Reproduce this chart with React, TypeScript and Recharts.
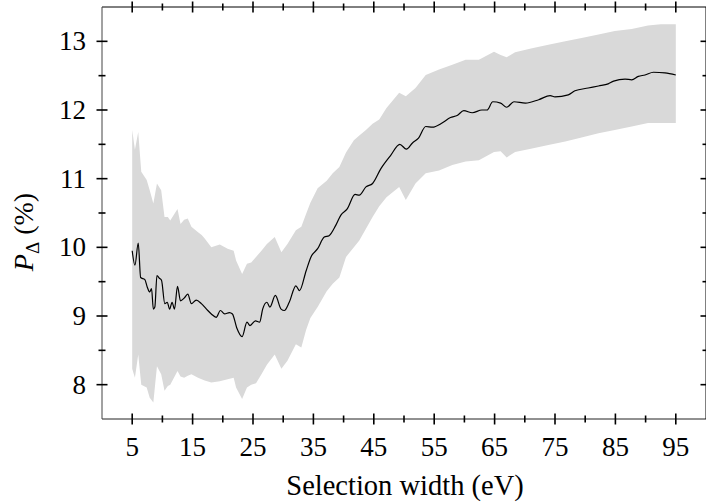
import { ComposedChart, Area, Line, XAxis, YAxis } from "recharts";

// mean curve
const meanX = [
  5, 5.45, 6, 6.4, 7.1, 7.5, 7.9, 8.2, 8.5, 8.75,
  9.1, 9.5, 9.85, 10.4, 10.8, 11.2, 11.6, 12, 12.5, 13,
  13.6, 14.2, 14.8, 15.6, 16.45, 17.3, 18.1, 18.9, 19.6, 20.3,
  21.1, 21.6, 22.3, 23.2, 24, 24.5, 25.4, 26.1, 26.6, 27.3,
  27.8, 28.7, 29.65, 30.2, 31, 32.1, 32.7, 33.8, 34.6, 35.7,
  36.8, 37.6, 38.7, 39.55, 40.6, 41.9, 42.6, 43.7, 44.8, 46.2,
  47.8, 49.3, 50.4, 51.4, 52.4, 53.6, 54.7, 56.3, 57.7, 58.8,
  59.9, 61.3, 62.9, 63.75, 64.7, 66, 67, 68.2, 70.1, 72.3,
  74.2, 75, 77.2, 78.3, 80.5, 82.2, 83.8, 84.7, 86.6, 87.7,
  88.8, 89.9, 91.3, 93.2, 95,
];
const meanY = [
  9.95, 9.74, 10.06, 9.56, 9.53, 9.42, 9.35, 9.4, 9.1, 9.13,
  9.59, 9.55, 9.52, 9.18, 9.2, 9.1, 9.2, 9.1, 9.43, 9.22,
  9.26, 9.32, 9.18, 9.23, 9.18, 9.1, 9.03, 8.98, 9.08, 9.03,
  9.05, 9.03, 8.83, 8.7, 8.91, 8.86, 8.93, 8.91, 9.1, 9.2,
  9.13, 9.3, 9.1, 9.08, 9.2, 9.44, 9.37, 9.66, 9.86, 9.98,
  10.15, 10.17, 10.32, 10.47, 10.56, 10.77, 10.76, 10.88, 10.93, 11.15,
  11.34, 11.5, 11.43, 11.52, 11.59, 11.76, 11.75, 11.81, 11.89, 11.92,
  11.99, 11.96, 12.0, 12.0, 12.12, 12.1, 12.04, 12.12, 12.1, 12.15,
  12.21, 12.19, 12.22, 12.28, 12.32, 12.35, 12.38, 12.42, 12.45, 12.44,
  12.49, 12.51, 12.55, 12.54, 12.51,
];

// grey uncertainty band
const bandX = [
  5, 5.45, 6, 6.5, 7.4, 7.9, 8.5, 9.1, 9.8, 10.35,
  10.9, 11.3, 12.5, 13, 13.6, 14.2, 14.8, 15.9, 16.5, 17,
  18.1, 19.5, 20.8, 21.8, 22.2, 23.2, 24, 24.7, 25.5, 26.4,
  27.3, 28.6, 29.7, 30.7, 32.1, 33, 33.8, 34.5, 35.7, 37.2,
  38.2, 39.3, 40.4, 41.7, 42.6, 43.7, 44.8, 45.9, 47.1, 49.2,
  50.3, 51.9, 53.6, 55.8, 58, 60.2, 62.4, 64.9, 66, 67,
  68.4, 71.2, 73.9, 76.7, 79.4, 82.2, 84.9, 87.7, 90.4, 92.5,
  95,
];
const bandLow = [
  8.23, 8.1, 8.44, 8.0, 7.96, 7.81, 7.74, 8.27, 8.15, 7.91,
  7.98, 8.0, 8.2, 8.12, 8.1, 8.13, 8.15, 8.1, 8.08, 8.06,
  8.03, 8.05, 8.08, 8.1, 7.96, 7.79, 7.96, 8.0, 8.02, 8.15,
  8.29, 8.44, 8.23, 8.35, 8.59, 8.54, 8.8, 8.97, 9.13, 9.36,
  9.47, 9.56, 9.86, 10.0, 10.1, 10.27, 10.44, 10.6, 10.73, 10.88,
  10.69, 10.93, 11.08, 11.12, 11.2, 11.25, 11.27, 11.39, 11.4, 11.31,
  11.39, 11.44, 11.49, 11.54, 11.6, 11.66, 11.71, 11.76, 11.81, 11.81,
  11.81,
];
const bandHigh = [
  11.71, 11.42, 11.68, 11.1, 10.98, 10.83, 10.64, 10.93, 10.83, 10.44,
  10.44, 10.39, 10.56, 10.34, 10.4, 10.42, 10.3, 10.22, 10.18, 10.13,
  10.0, 10.04, 9.98, 9.95, 9.81, 9.61, 9.76, 9.78, 9.86, 9.95,
  10.05, 10.15, 9.93, 10.05, 10.25, 10.3, 10.49, 10.65, 10.86, 10.97,
  11.08, 11.17, 11.38, 11.56, 11.63, 11.71, 11.8, 11.86, 12.03, 12.25,
  12.2, 12.32, 12.51, 12.59, 12.66, 12.73, 12.73, 12.85, 12.8, 12.77,
  12.84, 12.9, 12.95, 13.0, 13.05, 13.1, 13.15, 13.18, 13.23, 13.25,
  13.25,
];

const xMajor = [5, 15, 25, 35, 45, 55, 65, 75, 85, 95];
const xTicks = [5, 10, 15, 20, 25, 30, 35, 40, 45, 50, 55, 60, 65, 70, 75, 80, 85, 90, 95];
const yMajor = [8, 9, 10, 11, 12, 13];
const yTicks = [8, 8.5, 9, 9.5, 10, 10.5, 11, 11.5, 12, 12.5, 13];

const meanData = meanX.map((x, i) => ({ x, y: meanY[i] }));
const bandData = bandX.map((x, i) => ({ x, range: [bandLow[i], bandHigh[i]] }));

const FONT = "'Liberation Serif', serif";

function XTick(props: any) {
  const { x, y, payload, side } = props;
  const major = xMajor.includes(payload.value);
  const h = major ? 5.5 : 3.5;
  return (
    <g>
      <line x1={x} x2={x} y1={y - h} y2={y + h} stroke="#000" strokeWidth={1.6} />
      {side === "bottom" && major && (
        <text x={x} y={y + 37} textAnchor="middle" fontFamily={FONT} fontSize={27} fill="#000">
          {payload.value}
        </text>
      )}
    </g>
  );
}

function YTick(props: any) {
  const { x, y, payload, side } = props;
  const major = yMajor.includes(payload.value);
  const h = major ? 5.5 : 3.5;
  return (
    <g>
      <line x1={x - h} x2={x + h} y1={y} y2={y} stroke="#000" strokeWidth={1.6} />
      {side === "left" && major && (
        <text x={x - 16} y={y + 9} textAnchor="end" fontFamily={FONT} fontSize={27} fill="#000">
          {payload.value}
        </text>
      )}
    </g>
  );
}

export default function App() {
  return (
    <div style={{ position: "absolute", left: 0, top: 0, background: "#fff" }}>
      <ComposedChart width={706} height={504} margin={{ top: 6, right: -1, bottom: 0, left: 0 }}>
        <XAxis
          xAxisId="b"
          type="number"
          dataKey="x"
          domain={[0, 100]}
          ticks={xTicks}
          interval={0}
          tickSize={0}
          tickMargin={0}
          height={85}
          orientation="bottom"
          stroke="#222"
          tick={(p: any) => <XTick {...p} side="bottom" />}
          label={{
            content: () => (
              <text x={405} y={495} textAnchor="middle" fontFamily={FONT} fontSize={28.5} fill="#000">
                Selection width (eV)
              </text>
            ),
          }}
        />
        <XAxis
          xAxisId="t"
          type="number"
          dataKey="x"
          domain={[0, 100]}
          ticks={xTicks}
          interval={0}
          tickSize={0}
          tickMargin={0}
          height={1}
          orientation="top"
          stroke="#000"
          tick={(p: any) => <XTick {...p} side="top" />}
        />
        <YAxis
          yAxisId="l"
          type="number"
          domain={[7.5, 13.5]}
          ticks={yTicks}
          interval={0}
          tickSize={0}
          tickMargin={0}
          width={102}
          orientation="left"
          stroke="#444"
          tick={(p: any) => <YTick {...p} side="left" />}
          label={{
            content: () => (
              <text transform="translate(33,232) rotate(-90)" textAnchor="middle" fontFamily={FONT} fontSize={28} fill="#000">
                <tspan fontStyle="italic">P</tspan>
                <tspan fontSize={19} dy={6}>Δ</tspan>
                <tspan dy={-6}> (%)</tspan>
              </text>
            ),
          }}
        />
        <YAxis
          yAxisId="r"
          type="number"
          domain={[7.5, 13.5]}
          ticks={yTicks}
          interval={0}
          tickSize={0}
          tickMargin={0}
          width={1}
          orientation="right"
          stroke="#000"
          tick={(p: any) => <YTick {...p} side="right" />}
        />
        <Area
          xAxisId="b"
          yAxisId="l"
          data={bandData}
          dataKey="range"
          type="linear"
          stroke="none"
          fill="#d9d9d9"
          fillOpacity={1}
          dot={false}
          activeDot={false}
          isAnimationActive={false}
        />
        <Line
          xAxisId="b"
          yAxisId="l"
          data={meanData}
          dataKey="y"
          type="monotone"
          stroke="#000"
          strokeWidth={1.2}
          dot={false}
          activeDot={false}
          isAnimationActive={false}
        />
        {/* invisible copy so the top and right frame axes get drawn */}
        <Line
          xAxisId="t"
          yAxisId="r"
          data={meanData}
          dataKey="y"
          stroke="none"
          dot={false}
          activeDot={false}
          legendType="none"
          isAnimationActive={false}
        />
      </ComposedChart>
    </div>
  );
}
